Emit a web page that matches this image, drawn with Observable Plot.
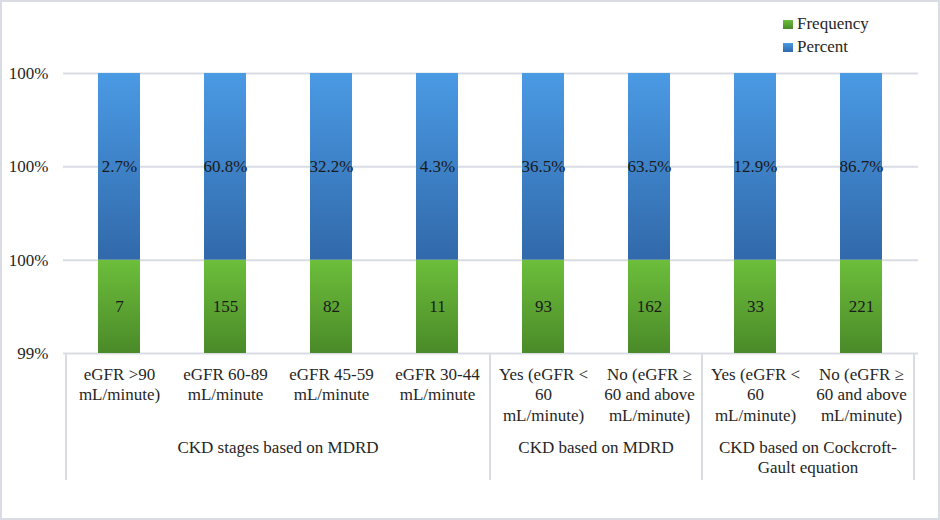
<!DOCTYPE html>
<html><head><meta charset="utf-8">
<script src="https://cdn.jsdelivr.net/npm/d3@7"></script>
<script src="https://cdn.jsdelivr.net/npm/@observablehq/plot@0.6"></script>
<style>body{margin:0;background:#fff}</style></head>
<body><div id="chart"></div>
<script>
// ---- data ----
const tickLabels = [
  "eGFR >90\nmL/minute)",
  "eGFR 60-89\nmL/minute",
  "eGFR 45-59\nmL/minute",
  "eGFR 30-44\nmL/minute",
  "Yes (eGFR <\n60\nmL/minute)",
  "No (eGFR ≥\n60 and above\nmL/minute)",
  "Yes (eGFR <\n60\nmL/minute)",
  "No (eGFR ≥\n60 and above\nmL/minute)"
];
const groupLabels = ["CKD stages based on MDRD", "CKD based on MDRD", "CKD based on Cockcroft-\nGault equation"];
const groupSizes = [4, 2, 2];
const frequency = [7, 155, 82, 11, 93, 162, 33, 221];
const percent = [2.7, 60.8, 32.2, 4.3, 36.5, 63.5, 12.9, 86.7];
// stacked shares as drawn against the (rounded) percentage axis
const frequencyShare = [0.996, 0.996, 0.996, 0.996, 0.996, 0.996, 0.996, 0.996];
const percentShare = [0.004, 0.004, 0.004, 0.004, 0.004, 0.004, 0.004, 0.004];
const yTicks = [0.994, 0.996, 0.998, 1.0];
const seriesNames = ["Frequency", "Percent"];

const FONT = "'Liberation Serif', 'Times New Roman', serif";
const FS = 17;
const yDomain = [yTicks[0], yTicks[yTicks.length - 1]];
const freqSegs = [], pctSegs = [];
tickLabels.forEach((_, i) => {
  const g1 = frequencyShare[i], b1 = g1 + percentShare[i];
  freqSegs.push({x: i, y1: Math.max(0, yDomain[0]), y2: g1, label: String(frequency[i])});
  pctSegs.push({x: i, y1: Math.max(g1, yDomain[0]), y2: b1, label: percent[i].toFixed(1) + "%"});
});

const W = 940, H = 520, mL = 63, mR = 22, mT = 73, mB = 167;
const plot = Plot.plot({
  width: W, height: H, marginLeft: mL, marginRight: mR, marginTop: mT, marginBottom: mB,
  style: {fontFamily: FONT, fontSize: FS + "px", color: "#262626", background: "#fff"},
  x: {type: "band", domain: d3.range(tickLabels.length), paddingInner: 0.6, paddingOuter: 0.3, label: null},
  y: {domain: yDomain, label: null},
  marks: [
    Plot.gridY(yTicks, {stroke: "#d9dde3", strokeOpacity: 1, strokeWidth: 2}),
    Plot.barY(freqSegs, {x: "x", y1: "y1", y2: "y2", fill: "url(#gGreen)"}),
    Plot.barY(pctSegs, {x: "x", y1: "y1", y2: "y2", fill: "url(#gBlue)"}),
    Plot.text(freqSegs, {x: "x", y: d => (d.y1 + d.y2) / 2, text: "label", fill: "#1a1a1a"}),
    Plot.text(pctSegs, {x: "x", y: d => (d.y1 + d.y2) / 2, text: "label", fill: "#1a1a1a"}),
    Plot.axisY(yTicks, {tickFormat: d3.format(".0%"), tickSize: 0, tickPadding: 15, fill: "#262626", label: null}),
    Plot.axisX({tickFormat: i => tickLabels[i], tickSize: 0, tickPadding: 12, lineHeight: 1.2, lineAnchor: "top", fill: "#262626", label: null})
  ]
});

const svg = d3.select(plot);
const defs = svg.insert("defs", ":first-child");
function grad(id, top, bottom) {
  const g = defs.append("linearGradient").attr("id", id)
    .attr("x1", 0).attr("y1", 0).attr("x2", 0).attr("y2", 1);
  g.append("stop").attr("offset", "0%").attr("stop-color", top);
  g.append("stop").attr("offset", "100%").attr("stop-color", bottom);
}
grad("gGreen", "#6dbe3b", "#4a8a29");
grad("gBlue", "#4a9ae4", "#3169aa");

// multi-level category axis: separators and group labels
const xs = plot.scale("x");
const bw = xs.bandwidth;
const step = xs.apply(1) - xs.apply(0);
const left = i => xs.apply(i) + bw / 2 - step / 2;
const baseY = H - mB;
const sepBottom = baseY + 127;
let start = 0;
const bounds = [];
groupSizes.forEach((n, gi) => {
  bounds.push(left(start));
  const x0 = left(start), x1 = left(start) + n * step;
  const lines = groupLabels[gi].split("\n");
  const t = svg.append("text").attr("text-anchor", "middle").attr("fill", "#262626")
    .attr("font-family", FONT).attr("font-size", FS);
  lines.forEach((ln, k) => t.append("tspan").attr("x", (x0 + x1) / 2).attr("y", baseY + 100 + k * 20).text(ln));
  start += n;
});
bounds.push(left(start - 1) + step);
const sep = svg.append("g").attr("stroke", "#d9dde3").attr("stroke-width", 2);
bounds.forEach(bx => sep.append("line").attr("x1", bx).attr("x2", bx).attr("y1", baseY).attr("y2", sepBottom));

// legend
const lg = svg.append("g").attr("font-family", FONT).attr("font-size", FS).attr("fill", "#262626").attr("text-anchor", "start");
seriesNames.forEach((s, k) => {
  lg.append("rect").attr("x", 783).attr("y", 20 + k * 23).attr("width", 10).attr("height", 9)
    .attr("fill", k === 0 ? "url(#gGreen)" : "url(#gBlue)");
  lg.append("text").attr("x", 797).attr("y", 29 + k * 23).text(s);
});

// outer frame
svg.append("rect").attr("x", 1).attr("y", 1).attr("width", W - 2).attr("height", H - 2)
  .attr("fill", "none").attr("stroke", "#d9dde3").attr("stroke-width", 2);

document.getElementById("chart").appendChild(plot);
</script></body></html>
